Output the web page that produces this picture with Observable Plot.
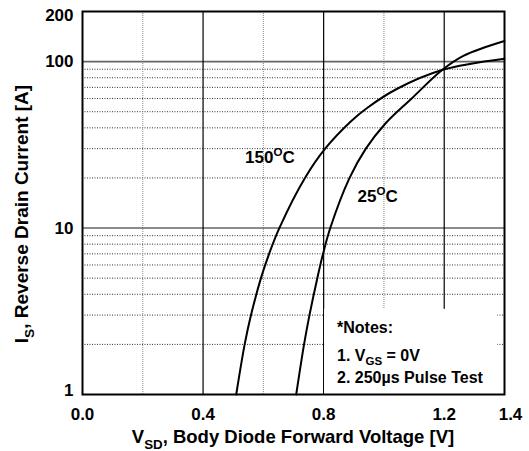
<!DOCTYPE html>
<html><head><meta charset="utf-8">
<script src="https://cdn.jsdelivr.net/npm/d3@7"></script>
<script src="https://cdn.jsdelivr.net/npm/@observablehq/plot@0.6"></script>
<style>body{margin:0;background:#fff} svg{display:block}</style>
</head><body><div id="chart"></div>
<script>
// ---- data ----
const v150 = [0.51, 0.538, 0.559, 0.592, 0.619, 0.653, 0.738, 0.805, 0.89, 0.943, 1.044, 1.193, 1.4];
const i150 = [1, 2, 3, 5, 7, 10, 20, 30, 43.7, 52.5, 68.7, 89, 104];
const v25  = [0.709, 0.735, 0.753, 0.779, 0.798, 0.822, 0.886, 0.94, 1.005, 1.093, 1.193, 1.265, 1.4];
const i25  = [1, 2, 3, 5, 7, 10, 20, 30, 42.5, 60.3, 89, 108.6, 133];
const xTickValues = [0, 0.4, 0.8, 1.2, 1.4];
const yTickValues = [1, 10, 100, 200];
const xMajorGrid = [0.4, 0.8, 1.2];
const xMinorGrid = [0.2, 0.6, 1.0];
const yMajorGrid = [10, 100];
const yMinorGrid = [2, 3, 4, 5, 6, 7, 8, 9, 20, 30, 40, 50, 60, 70, 80, 90];
const seriesNames = ["150", "25"];

// ---- annotations (data coordinates) ----
const notesBox = {x1: 0.803, x2: 1.378, y1: 1, y2: 3.25};
const curveLabels = [
  {x: 0.541, y: 24.5, parts: ["150", {sup: "O"}, "C"]},
  {x: 0.914, y: 14.3, parts: ["25", {sup: "O"}, "C"]}
];
const notes = [
  {x: 0.846, y: 2.32, parts: ["*Notes:"]},
  {x: 0.846, y: 1.57, parts: ["1. V", {sub: "GS"}, " = 0V"]},
  {x: 0.846, y: 1.16, parts: ["2. 250\u00b5s Pulse Test"]}
];

const rows = [
  ...v150.map((v, k) => ({v, i: i150[k], s: seriesNames[0]})),
  ...v25.map((v, k) => ({v, i: i25[k], s: seriesNames[1]}))
];

const FONT = "'Liberation Sans', Arial, sans-serif";
const W = 529, H = 451;

const plot = Plot.plot({
  width: W, height: H,
  marginLeft: 82, marginRight: 25, marginTop: 11, marginBottom: 57,
  style: {fontFamily: FONT, fontWeight: "bold", background: "#fff", color: "#000"},
  x: {domain: [0, 1.4], axis: null},
  y: {type: "log", domain: [1, 200], axis: null},
  marks: [
    Plot.ruleY(yMinorGrid, {stroke: "#333", strokeWidth: 1, strokeDasharray: "1,1.5"}),
    Plot.ruleX(xMinorGrid, {stroke: "#888", strokeWidth: 1, strokeDasharray: "1,1"}),
    Plot.ruleY(yMajorGrid, {stroke: "#666", strokeWidth: 1.6}),
    Plot.ruleX(xMajorGrid, {stroke: "#000", strokeWidth: 1.2}),
    Plot.rect([notesBox], {x1: "x1", x2: "x2", y1: "y1", y2: "y2", fill: "#fff"}),
    Plot.line(rows, {x: "v", y: "i", z: "s", stroke: "#000", strokeWidth: 2, curve: "catmull-rom"}),
    Plot.frame({stroke: "#000", strokeWidth: 2}),
    Plot.text(xTickValues.filter(d => d < 1.4), {x: d => d, y: 1, text: d => d.toFixed(1), dy: 20, fontSize: 17, fontWeight: "bold"}),
    Plot.text(xTickValues.filter(d => d >= 1.4), {x: d => d, y: 1, text: d => d.toFixed(1), dy: 20, dx: 6, fontSize: 17, fontWeight: "bold"}),
    Plot.text(yTickValues.filter(d => d > 1 && d < 200), {x: 0, y: d => d, text: d => String(d), dx: -9, textAnchor: "end", fontSize: 17, fontWeight: "bold"}),
    Plot.text(yTickValues.filter(d => d >= 200), {x: 0, y: d => d, text: d => String(d), dx: -9, dy: 4, textAnchor: "end", fontSize: 17, fontWeight: "bold"}),
    Plot.text(yTickValues.filter(d => d <= 1), {x: 0, y: d => d, text: d => String(d), dx: -9, dy: -4, textAnchor: "end", fontSize: 17, fontWeight: "bold"})
  ]
});

const sx = plot.scale("x"), sy = plot.scale("y");

function rich(svg, {x, y, parts, size, anchor = "start", rotate = 0, subShift = 0.3}) {
  const t = d3.select(svg).append("text")
    .attr("font-family", FONT).attr("font-weight", "bold")
    .attr("font-size", size).attr("text-anchor", anchor).attr("fill", "#000")
    .attr("transform", `translate(${x},${y}) rotate(${rotate})`);
  let shift = 0;
  for (const p of parts) {
    let txt = p, target = 0, s = size;
    if (typeof p === "object") {
      if (p.sub) { txt = p.sub; target = size * subShift; s = size * 0.72; }
      if (p.sup) { txt = p.sup; target = -size * 0.42; s = size * 0.68; }
    }
    t.append("tspan").attr("font-size", s).attr("dy", target - shift).text(txt);
    shift = target;
  }
  return t;
}

for (const c of curveLabels) rich(plot, {x: sx.apply(c.x), y: sy.apply(c.y), parts: c.parts, size: 17});
for (const n of notes) rich(plot, {x: sx.apply(n.x), y: sy.apply(n.y), parts: n.parts, size: 16, subShift: 0.2});

// axis titles
rich(plot, {x: (sx.apply(0) + sx.apply(1.4)) / 2, y: H - 8, anchor: "middle", size: 18.5,
  parts: ["V", {sub: "SD"}, ", Body Diode Forward Voltage [V]"]});
rich(plot, {x: 28, y: 214, anchor: "middle", rotate: -90, size: 19,
  parts: ["I", {sub: "S"}, ", Reverse Drain Current [A]"]});

document.getElementById("chart").append(plot);
</script>
</body></html>
